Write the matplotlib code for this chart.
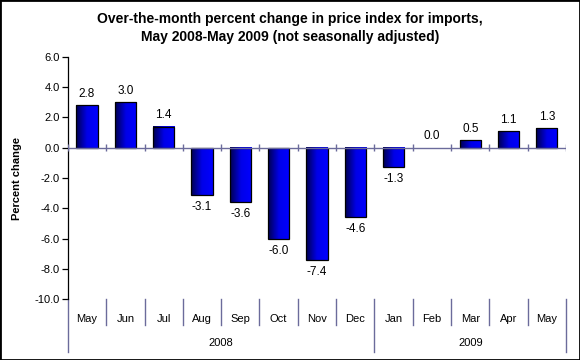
import numpy as np
import matplotlib
matplotlib.use('Agg')
import matplotlib.pyplot as plt
from matplotlib.patches import Rectangle
import matplotlib.transforms as mtransforms

# data
months = ['May', 'Jun', 'Jul', 'Aug', 'Sep', 'Oct', 'Nov', 'Dec',
          'Jan', 'Feb', 'Mar', 'Apr', 'May']
values = [2.8, 3.0, 1.4, -3.1, -3.6, -6.0, -7.4, -4.6,
          -1.3, 0.0, 0.5, 1.1, 1.3]
years = ['2008', '2009']
year_spans = [(0, 7), (8, 12)]   # first and last month index of each year
yticks = np.arange(-10, 7, 2)

plt.rcParams['font.family'] = ['Liberation Sans', 'DejaVu Sans']
axis_col = '#6b6b9b'

fig = plt.figure(figsize=(5.8, 3.6), dpi=100)
ax = fig.add_axes([0.117, 0.169, 0.859, 0.673])

x = np.arange(len(values))
bars = ax.bar(x, values, width=0.55, color='none', edgecolor='black',
              linewidth=0.9, zorder=3)

# horizontal gradient inside each bar, navy -> blue
grad = np.linspace(0, 1, 64).reshape(1, -1)
cmap = matplotlib.colors.LinearSegmentedColormap.from_list('b', ['#000050', '#0000e8', '#0000ff'])
for b in bars:
    x0, w = b.get_x(), b.get_width()
    y0, h = b.get_y(), b.get_height()
    if h == 0:
        b.set_linewidth(0)
        continue
    ax.imshow(grad, cmap=cmap, aspect='auto', extent=[x0, x0 + w, y0, y0 + h],
              zorder=2, interpolation='bilinear')

# value labels
for xi, v in zip(x, values):
    if v >= 0:
        ax.text(xi, v + 0.35, f'{v:.1f}', ha='center', va='bottom', fontsize=8.5)
    else:
        ax.text(xi, v - 0.4, f'{v:.1f}', ha='center', va='top', fontsize=8.5)

ax.set_xlim(-0.5, len(values) - 0.5)
ax.set_ylim(-10, 6)
ax.set_yticks(yticks)
ax.set_yticklabels([f'{t:.1f}' for t in yticks], fontsize=8)
ax.tick_params(axis='y', direction='out', length=4, width=0.9, color='black', pad=2)
ax.set_xticks([])
for s in ['top', 'right', 'bottom']:
    ax.spines[s].set_visible(False)
ax.spines['left'].set_linewidth(0.9)
ax.set_ylabel('Percent change', fontsize=8, fontweight='bold')
ax.yaxis.set_label_coords(-0.093, 0.5)

# zero line with crossing tick marks at category boundaries
ax.axhline(0, color=axis_col, linewidth=1, zorder=4)
bounds = np.arange(len(values) + 1) - 0.5
ax.vlines(bounds, -0.22, 0.22, color=axis_col, linewidth=1, zorder=4)

# category separators under the plot
trans = mtransforms.blended_transform_factory(ax.transData, ax.transAxes)
year_edges = [year_spans[0][0] - 0.5] + [e + 0.5 for _, e in year_spans]
for bd in bounds:
    low = -0.22 if bd in year_edges else -0.108
    ax.plot([bd, bd], [0, low], color=axis_col, linewidth=1, transform=trans,
            clip_on=False)
for xi, m in zip(x, months):
    ax.text(xi, -0.08, m, transform=trans, ha='center', va='center', fontsize=8)
for yr, (s, e) in zip(years, year_spans):
    ax.text((s + e) / 2, -0.182, yr, transform=trans, ha='center', va='center',
            fontsize=8)

fig.text(0.5, 0.968, 'Over-the-month percent change in price index for imports,\n'
         'May 2008-May 2009 (not seasonally adjusted)',
         ha='center', va='top', fontsize=10, fontweight='bold', linespacing=1.45)

fig.patches.append(Rectangle((0, 0), 1, 1, transform=fig.transFigure,
                             fill=False, edgecolor='black', linewidth=2))

fig.savefig('out.png', dpi=100)
